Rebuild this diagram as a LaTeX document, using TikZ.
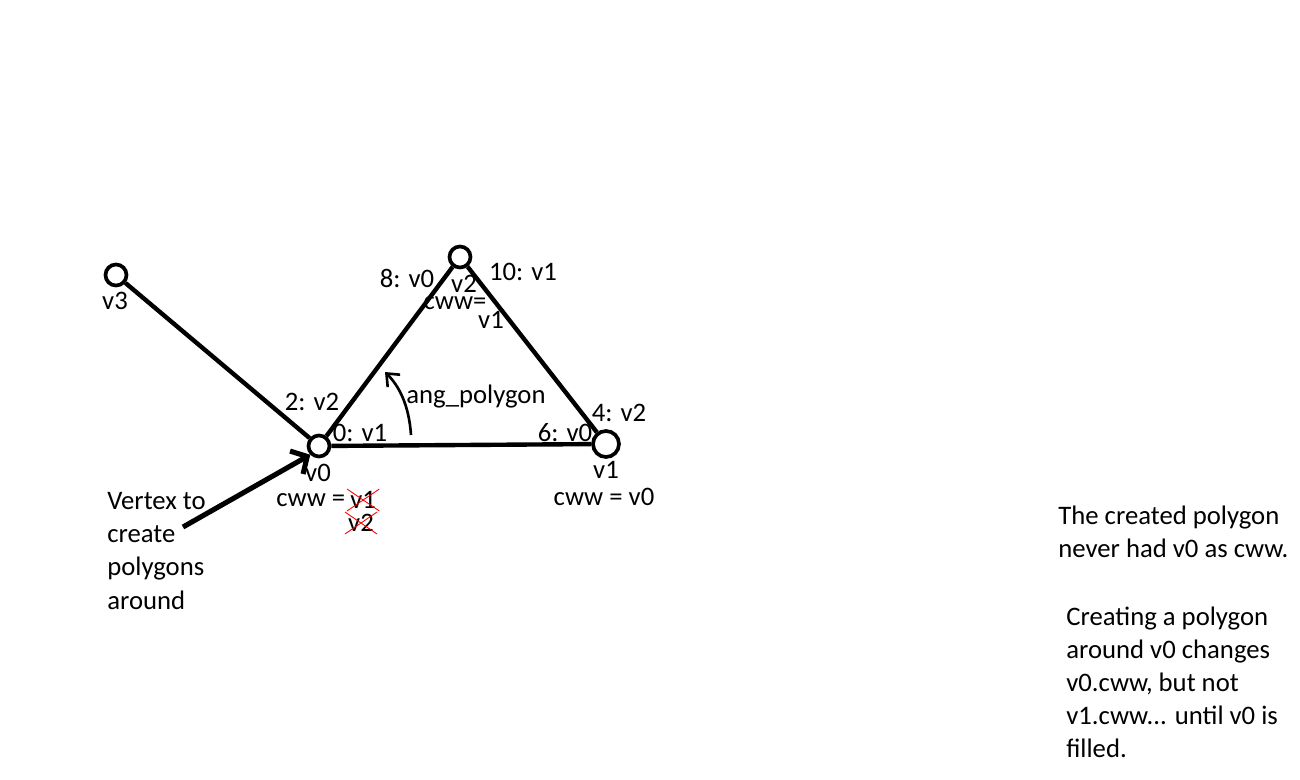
\documentclass[tikz,border=0pt]{standalone}
\usepackage{fontspec}
\setmainfont{Carlito}
\usetikzlibrary{positioning,arrows.meta}

\begin{document}
\begin{tikzpicture}[x=0.02cm,y=-0.02cm,
  every node/.style={inner sep=0pt,font=\fontsize{15.2}{18.8}\selectfont},
  vert/.style={draw,circle,line width=2.1pt,minimum size=0.42cm},
  bigvert/.style={vert,minimum size=0.52cm},
  edge/.style={line width=2.5pt},
  gone/.style={red,line width=0.5pt,shorten <=-2pt,shorten >=-2pt}]
\useasboundingbox (0,0) rectangle (1300,780);
\node[vert] (v3) at (116,275) {};
\node[vert] (v0) at (319,446) {};
\node[vert] (v2) at (460,257) {};
\node[bigvert] (v1) at (606,444) {};
\draw[edge] (v3)--(v0);
\draw[edge] (v0)--(v2);
\draw[edge] (v2)--(v1);
\draw[edge] (v0)--(v1);
\node (l3) at (115,301) {v3};
\node (l0) at (318,473) {v0};
\node (l2) at (464,284) {v2};
\node (l1) at (606,470) {v1};
\node at (312,402) {2: v2};
\node at (360,433) {0: v1};
\node at (407,278) {8: v0};
\node at (523,272) {10: v1};
\node at (619,413) {4: v2};
\node at (565,433) {6: v0};
\node (c0) [anchor=west] at (276,500) {cww =};
\node (old1) [right=0.25em of c0] {v1};
\node (old2) at (361,523) {v2};
\draw[gone] (old1.north west)--(old1.south east);
\draw[gone] (old1.south west)--(old1.north east);
\draw[gone] (old2.north west)--(old2.south east);
\draw[gone] (old2.south west)--(old2.north east);
\node at (455,303) {cww=};
\node at (491,320) {v1};
\node at (604,497) {cww = v0};
\node (ang) at (476,397) {ang\_polygon};
\coordinate (a1) at (411,435);
\coordinate (a2) at (385,372);
\draw[line width=1.5pt,-{Straight Barb[length=6pt,width=10pt]}] (a1) .. controls (409,405) and (399,386) .. (a2);
\node (hint) [anchor=west,align=left] at (107,551) {Vertex to\\create\\polygons\\around};
\coordinate (h1) at (183,527);
\draw[line width=2.9pt,-{Straight Barb[length=7pt,width=15pt]}] (h1)--(v0.south west);
\node (note1) [anchor=west,align=left] at (1058,532) {The created polygon\\never had v0 as cww.};
\node (note2) [anchor=west,align=left] at (1066,682) {Creating a polygon\\around v0 changes\\v0.cww, but not\\v1.cww... until v0 is\\filled.};
\end{tikzpicture}
\end{document}
